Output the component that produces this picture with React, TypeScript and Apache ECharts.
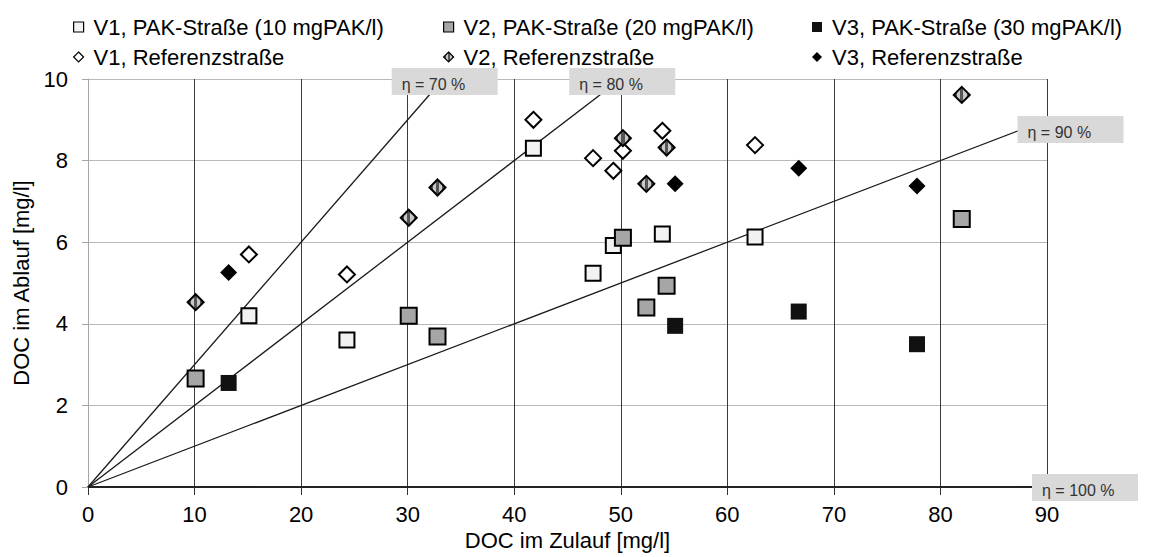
import React, { useEffect, useRef } from "react";
import * as echarts from "echarts";

const FONT = "'Liberation Sans', Arial, sans-serif";

const seriesNames = [
  "V1, PAK-Straße (10 mgPAK/l)",
  "V2, PAK-Straße (20 mgPAK/l)",
  "V3, PAK-Straße (30 mgPAK/l)",
  "V1, Referenzstraße",
  "V2, Referenzstraße",
  "V3, Referenzstraße",
];

const v1PakX = [15.1, 24.3, 41.8, 47.4, 49.3, 53.9, 62.6];
const v1PakY = [4.2, 3.6, 8.3, 5.24, 5.92, 6.2, 6.13];
const v2PakX = [10.1, 30.1, 32.8, 50.2, 52.4, 54.3, 82.0];
const v2PakY = [2.66, 4.2, 3.69, 6.11, 4.4, 4.93, 6.57];
const v3PakX = [13.2, 55.1, 66.7, 77.8];
const v3PakY = [2.55, 3.95, 4.3, 3.5];
const v1RefX = [15.1, 24.3, 41.8, 47.4, 49.3, 50.2, 53.9, 62.6];
const v1RefY = [5.7, 5.21, 9.0, 8.06, 7.75, 8.24, 8.73, 8.38];
const v2RefX = [10.1, 30.1, 32.8, 50.2, 52.4, 54.3, 82.0];
const v2RefY = [4.53, 6.6, 7.34, 8.55, 7.43, 8.32, 9.61];
const v3RefX = [13.2, 55.1, 66.7, 77.8];
const v3RefY = [5.26, 7.43, 7.81, 7.38];

const etaLevels = [70, 80, 90, 100];
const etaLabels = ["η = 70 %", "η = 80 %", "η = 90 %", "η = 100 %"];

const X_MAX = 90;
const Y_MAX = 10;

function pairs(xs: number[], ys: number[]) {
  return xs.map((x, i) => [x, ys[i]]);
}

function etaEnd(eta: number) {
  const s = 1 - eta / 100;
  const xEnd = s > 0 ? Math.min(X_MAX, Y_MAX / s) : X_MAX;
  return [xEnd, s * xEnd];
}

export default function App() {
  const ref = useRef<HTMLDivElement>(null);

  useEffect(() => {
    if (!ref.current) return;
    const chart = echarts.init(ref.current, null, { renderer: "svg" });

    const stripes = new echarts.graphic.LinearGradient(0, 0, 1, 0, [
      { offset: 0, color: "#555" },
      { offset: 0.2, color: "#555" },
      { offset: 0.2, color: "#c8c8c8" },
      { offset: 0.4, color: "#c8c8c8" },
      { offset: 0.4, color: "#555" },
      { offset: 0.6, color: "#555" },
      { offset: 0.6, color: "#c8c8c8" },
      { offset: 0.8, color: "#c8c8c8" },
      { offset: 0.8, color: "#555" },
      { offset: 1, color: "#555" },
    ]);

    const boxOffsets = [
      [1.5, 2.5],
      [1.5, 2.5],
      [23.5, 9.7],
      [38, 0.5],
    ];

    const etaSeries = etaLevels.map((eta, i) => ({
      type: "line",
      name: "eta" + eta,
      data: [[0, 0], etaEnd(eta)],
      showSymbol: false,
      silent: true,
      z: 1,
      lineStyle: { color: "#1a1a1a", width: 1.3 },
      markPoint: {
        silent: true,
        symbol: "rect",
        symbolSize: [106, 27],
        symbolOffset: boxOffsets[i],
        itemStyle: { color: "#d9d9d9" },
        label: {
          show: true,
          position: [10, "62%"],
          align: "left",
          verticalAlign: "middle",
          formatter: etaLabels[i],
          color: "#333",
          fontSize: 16,
          fontFamily: FONT,
        },
        data: [{ coord: etaEnd(eta) }],
      },
    }));

    const sq = (name: string, d: number[][], color: string, size: number, border: boolean) => ({
      type: "scatter",
      name,
      data: d,
      symbol: "rect",
      symbolSize: size,
      z: 3,
      itemStyle: border
        ? { color, borderColor: "#000", borderWidth: 2, opacity: 1 }
        : { color, opacity: 1 },
    });
    const dia = (name: string, d: number[][], color: any, size: number, border: boolean) => ({
      type: "scatter",
      name,
      data: d,
      symbol: "diamond",
      symbolSize: size,
      z: 4,
      itemStyle: border
        ? { color, borderColor: "#000", borderWidth: 2, opacity: 1 }
        : { color, opacity: 1 },
    });

    const legendBase = {
      orient: "vertical",
      top: 11,
      itemWidth: 10,
      itemHeight: 10,
      itemGap: 8,
      selectedMode: false,
      textStyle: { fontSize: 22, fontFamily: FONT, color: "#000", lineHeight: 22, padding: [0, 0, 0, 5] },
      itemStyle: { borderWidth: 1.2 },
    };

    chart.setOption({
      animation: false,
      textStyle: { fontFamily: FONT },
      legend: [
        { ...legendBase, left: 68, data: [seriesNames[0], seriesNames[3]] },
        { ...legendBase, left: 438, data: [seriesNames[1], seriesNames[4]] },
        { ...legendBase, left: 807, data: [seriesNames[2], seriesNames[5]] },
      ],
      grid: { left: 88, right: 102, top: 79, bottom: 70, containLabel: false },
      xAxis: {
        type: "value",
        min: 0,
        max: X_MAX,
        interval: 10,
        name: "DOC im Zulauf [mg/l]",
        nameLocation: "middle",
        nameGap: 40,
        nameTextStyle: { fontSize: 22, color: "#000", fontFamily: FONT },
        axisLine: { show: true, onZero: false, lineStyle: { color: "#000", width: 1.6 } },
        axisTick: { show: true, length: 8, lineStyle: { color: "#333" } },
        axisLabel: { fontSize: 22, color: "#000", margin: 16, fontFamily: FONT },
        splitLine: { show: true, lineStyle: { color: "#3a3a3a", width: 1 } },
      },
      yAxis: {
        type: "value",
        min: 0,
        max: Y_MAX,
        interval: 2,
        name: "DOC im Ablauf [mg/l]",
        nameLocation: "middle",
        nameGap: 53,
        nameTextStyle: { fontSize: 22, color: "#000", fontFamily: FONT },
        axisLine: { show: true, lineStyle: { color: "#a6a6a6", width: 1 } },
        axisTick: { show: true, length: 6, lineStyle: { color: "#a6a6a6" } },
        axisLabel: { fontSize: 22, color: "#000", margin: 20, fontFamily: FONT },
        splitLine: { show: true, lineStyle: { color: "#b8b8b8", width: 1 } },
      },
      series: [
        ...etaSeries,
        sq(seriesNames[0], pairs(v1PakX, v1PakY), "#f2f2f2", 15, true),
        sq(seriesNames[1], pairs(v2PakX, v2PakY), "#a6a6a6", 16, true),
        sq(seriesNames[2], pairs(v3PakX, v3PakY), "#111", 16, false),
        dia(seriesNames[3], pairs(v1RefX, v1RefY), "#fff", 16, true),
        dia(seriesNames[4], pairs(v2RefX, v2RefY), stripes, 16, true),
        dia(seriesNames[5], pairs(v3RefX, v3RefY), "#000", 17, false),
      ],
    });

    return () => chart.dispose();
  }, []);

  return (
    <div
      ref={ref}
      style={{ position: "absolute", left: 0, top: 0, width: 1149, height: 557, background: "#fff" }}
    />
  );
}
